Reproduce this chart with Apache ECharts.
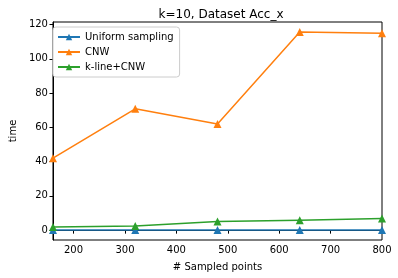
<!DOCTYPE html>
<html>
<head>
<meta charset="utf-8">
<script src="https://cdn.jsdelivr.net/npm/echarts@6/dist/echarts.min.js"></script>
<style>html,body{margin:0;padding:0;background:#fff;}#c{width:398px;height:278px;}</style>
</head>
<body>
<div id="c"></div>
<script>
var xValues = [160, 320, 480, 640, 800];
var uniformSampling = [0.05, 0.05, 0.05, 0.05, 0.05];
var cnw = [42.0, 70.8, 62.0, 115.6, 115.0];
var klineCnw = [1.8, 2.4, 5.0, 5.8, 6.8];
var xTicks = [200, 300, 400, 500, 600, 700, 800];
var yTicks = [0, 20, 40, 60, 80, 100, 120];
var seriesNames = ['Uniform sampling', 'CNW', 'k-line+CNW'];
var colors = ['#1f77b4', '#ff7f0e', '#2ca02c'];

function pairs(ys) { return xValues.map(function (x, i) { return [x, ys[i]]; }); }

var font = 'DejaVu Sans';
var chart = echarts.init(document.getElementById('c'));
var allData = [uniformSampling, cnw, klineCnw];
chart.setOption({
  animation: false,
  textStyle: { fontFamily: font },
  title: {
    text: 'k=10, Dataset Acc_x', left: 216, top: 4, textAlign: 'center',
    textStyle: { fontSize: 12, fontWeight: 'normal', color: '#000', fontFamily: font }
  },
  grid: { left: 47, right: 16, top: 22, bottom: 38, show: true, borderColor: '#000', borderWidth: 1, backgroundColor: 'transparent' },
  legend: {
    left: 53, top: 27, orient: 'vertical', itemGap: 5, itemWidth: 22, itemHeight: 8,
    backgroundColor: '#fff', borderColor: '#ccc', borderWidth: 1, borderRadius: 3,
    padding: [5, 6, 5, 4],
    textStyle: { fontSize: 10, color: '#000', fontFamily: font },
    data: seriesNames
  },
  xAxis: {
    type: 'value', min: 160, max: 800,
    name: '# Sampled points', nameLocation: 'middle', nameGap: 22,
    nameTextStyle: { fontSize: 10, color: '#000', fontFamily: font },
    axisLine: { lineStyle: { color: '#000' } },
    axisTick: { show: true, length: 3.5, lineStyle: { color: '#000' }, customValues: xTicks },
    axisLabel: { fontSize: 10, color: '#000', margin: 5, customValues: xTicks, fontFamily: font },
    splitLine: { show: false }
  },
  yAxis: {
    type: 'value', min: -5.75, max: 121.5,
    name: 'time', nameLocation: 'middle', nameGap: 32, nameRotate: 90,
    nameTextStyle: { fontSize: 10, color: '#000', fontFamily: font },
    axisLine: { show: true, lineStyle: { color: '#000' } },
    axisTick: { show: true, length: 3.5, lineStyle: { color: '#000' }, customValues: yTicks },
    axisLabel: { fontSize: 10, color: '#000', margin: 5, customValues: yTicks, fontFamily: font },
    splitLine: { show: false }
  },
  series: seriesNames.map(function (n, i) {
    return {
      name: n, type: 'line', data: pairs(allData[i]),
      symbol: 'triangle', symbolSize: 8, showAllSymbol: true,
      lineStyle: { width: 1.5, color: colors[i] },
      itemStyle: { color: colors[i] },
      clip: false, z: 2 + i
    };
  })
});
</script>
</body>
</html>
